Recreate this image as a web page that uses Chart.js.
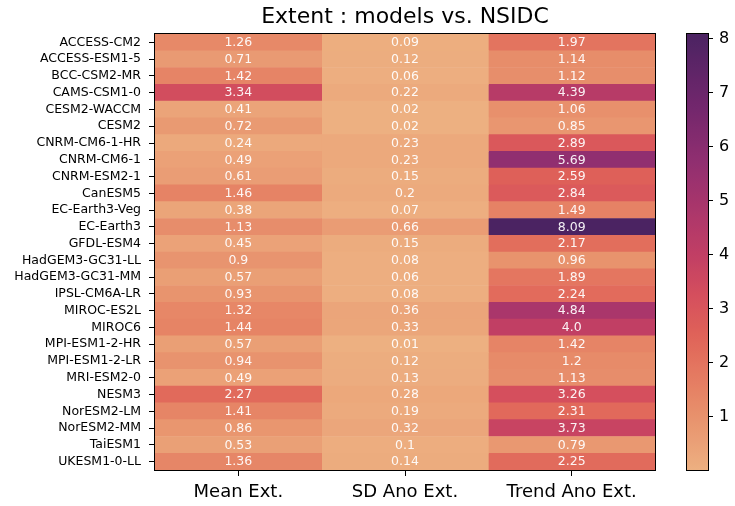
<!DOCTYPE html>
<html><head><meta charset="utf-8">
<script src="https://cdn.jsdelivr.net/npm/chart.js@4"></script>
<style>
html,body{margin:0;padding:0;background:#fff;}
#wrap{position:relative;width:735px;height:506px;overflow:hidden;}
#main{position:absolute;left:0;top:0;}
#cb{position:absolute;left:660px;top:0;}
</style></head><body>
<div id="wrap">
<canvas id="main" width="735" height="506"></canvas>
<canvas id="cb" width="75" height="506"></canvas>
</div>
<script>
const models = ['ACCESS-CM2','ACCESS-ESM1-5','BCC-CSM2-MR','CAMS-CSM1-0','CESM2-WACCM','CESM2','CNRM-CM6-1-HR','CNRM-CM6-1','CNRM-ESM2-1','CanESM5','EC-Earth3-Veg','EC-Earth3','GFDL-ESM4','HadGEM3-GC31-LL','HadGEM3-GC31-MM','IPSL-CM6A-LR','MIROC-ES2L','MIROC6','MPI-ESM1-2-HR','MPI-ESM1-2-LR','MRI-ESM2-0','NESM3','NorESM2-LM','NorESM2-MM','TaiESM1','UKESM1-0-LL'];
const columns = ['Mean Ext.','SD Ano Ext.','Trend Ano Ext.'];
const meanExt = [1.26,0.71,1.42,3.34,0.41,0.72,0.24,0.49,0.61,1.46,0.38,1.13,0.45,0.9,0.57,0.93,1.32,1.44,0.57,0.94,0.49,2.27,1.41,0.86,0.53,1.36];
const sdAnoExt = [0.09,0.12,0.06,0.22,0.02,0.02,0.23,0.23,0.15,0.2,0.07,0.66,0.15,0.08,0.06,0.08,0.36,0.33,0.01,0.12,0.13,0.28,0.19,0.32,0.1,0.14];
const trendAnoExt = [1.97,1.14,1.12,4.39,1.06,0.85,2.89,5.69,2.59,2.84,1.49,8.09,2.17,0.96,1.89,2.24,4.84,4.0,1.42,1.2,1.13,3.26,2.31,3.73,0.79,2.25];
const colorbarTicks = [1,2,3,4,5,6,7,8];
const vmin = 0.01, vmax = 8.09;
const title = 'Extent : models vs. NSIDC';

const columnValues = [meanExt, sdAnoExt, trendAnoExt];
const FONT = "'DejaVu Sans', sans-serif";

// approximate seaborn "flare" colormap
const cmapStops = [
  [0.00,[237,176,129]],[0.12,[232,146,109]],[0.18,[230,131,101]],[0.27,[226,109,92]],
  [0.32,[222,96,89]],[0.40,[213,79,93]],[0.49,[194,63,100]],[0.60,[170,54,107]],
  [0.70,[146,47,112]],[0.85,[110,38,108]],[1.00,[75,35,98]]
];
function cmap(t){
  t = Math.max(0, Math.min(1, t));
  for (let i=1;i<cmapStops.length;i++){
    const [t1,c1]=cmapStops[i-1],[t2,c2]=cmapStops[i];
    if (t<=t2){
      const f=(t-t1)/(t2-t1);
      return 'rgb('+c1.map((v,k)=>Math.round(v+(c2[k]-v)*f)).join(',')+')';
    }
  }
  return 'rgb(75,35,98)';
}
const colorFor = v => cmap((v - vmin)/(vmax - vmin));
const fmt = v => Number.isInteger(v) ? v.toFixed(1) : String(v);

const annotPlugin = {
  id:'annot',
  afterDatasetsDraw(chart){
    const {ctx, scales:{x,y}} = chart;
    ctx.save();
    ctx.font = '12.5px ' + FONT;
    ctx.fillStyle = 'rgba(255,255,255,0.93)';
    ctx.textAlign = 'center';
    ctx.textBaseline = 'middle';
    columnValues.forEach((vals,c)=>{
      vals.forEach((v,r)=>{
        ctx.fillText(fmt(v), x.getPixelForValue(c+0.5), y.getPixelForValue(r)+0.5);
      });
    });
    ctx.restore();
  },
  afterDraw(chart){
    const {ctx, chartArea:a} = chart;
    ctx.save();
    ctx.strokeStyle = '#000';
    ctx.lineWidth = 1;
    ctx.strokeRect(Math.round(a.left)-0.5, Math.round(a.top)-0.5, Math.round(a.right-a.left)+1, Math.round(a.bottom-a.top)+1);
    ctx.restore();
  }
};

new Chart(document.getElementById('main'), {
  type:'bar',
  data:{
    labels: models,
    datasets: columnValues.map((vals,c)=>({
      label: columns[c],
      data: models.map((m,r)=>({x:[c,c+1], y:m})),
      backgroundColor: vals.map(colorFor),
      borderWidth:0,
      barPercentage:1,
      categoryPercentage:1,
      grouped:false
    }))
  },
  options:{
    indexAxis:'y',
    responsive:false,
    animation:false,
    layout:{padding:{left:0,right:80,top:0,bottom:0}},
    plugins:{
      legend:{display:false},
      tooltip:{enabled:false},
      title:{display:true,text:title,fullSize:false,color:'#000',
        font:{family:FONT,size:22,weight:'normal'},padding:{top:4,bottom:3.6}}
    },
    scales:{
      x:{type:'linear',min:0,max:3,
        afterBuildTicks(s){ s.ticks = columns.map((c,i)=>({value:i+0.5})); },
        afterFit(s){ s.height = 36; },
        ticks:{autoSkip:false,maxRotation:0,color:'#000',padding:6,
          font:{family:FONT,size:18},
          callback:(v)=>columns[Math.floor(v)]},
        grid:{drawOnChartArea:false,drawTicks:true,tickLength:6,color:'#000'},
        border:{display:false}
      },
      y:{type:'category',offset:true,
        afterFit(s){ s.width = 155; },
        ticks:{autoSkip:false,color:'#000',padding:8,font:{family:FONT,size:12.5}},
        grid:{offset:false,drawOnChartArea:false,drawTicks:true,tickLength:6,color:'#000'},
        border:{display:false}
      }
    }
  },
  plugins:[annotPlugin]
});

const cbPlugin = {
  id:'cbar',
  beforeDatasetsDraw(chart){
    const {ctx, chartArea:a} = chart;
    const g = ctx.createLinearGradient(0, a.bottom, 0, a.top);
    for (let i=0;i<=64;i++){ g.addColorStop(i/64, cmap(i/64)); }
    ctx.save();
    ctx.fillStyle = g;
    ctx.fillRect(a.left, a.top, a.right-a.left, a.bottom-a.top);
    ctx.strokeStyle = '#000';
    ctx.lineWidth = 1;
    ctx.strokeRect(Math.round(a.left)-0.5, Math.round(a.top)-0.5, Math.round(a.right-a.left)+1, Math.round(a.bottom-a.top)+1);
    ctx.restore();
  }
};

new Chart(document.getElementById('cb'), {
  type:'scatter',
  data:{datasets:[{data:[]}]},
  options:{
    responsive:false,
    animation:false,
    layout:{padding:{left:27,top:34,bottom:36,right:0}},
    plugins:{legend:{display:false},tooltip:{enabled:false}},
    scales:{
      x:{display:false},
      y:{type:'linear',position:'right',min:vmin,max:vmax,
        afterBuildTicks(s){ s.ticks = colorbarTicks.map(v=>({value:v})); },
        afterFit(s){ s.width = 27; },
        ticks:{color:'#000',padding:6,font:{family:FONT,size:16}},
        grid:{drawOnChartArea:false,drawTicks:true,tickLength:5,color:'#000'},
        border:{display:false}
      }
    }
  },
  plugins:[cbPlugin]
});
</script>
</body></html>
